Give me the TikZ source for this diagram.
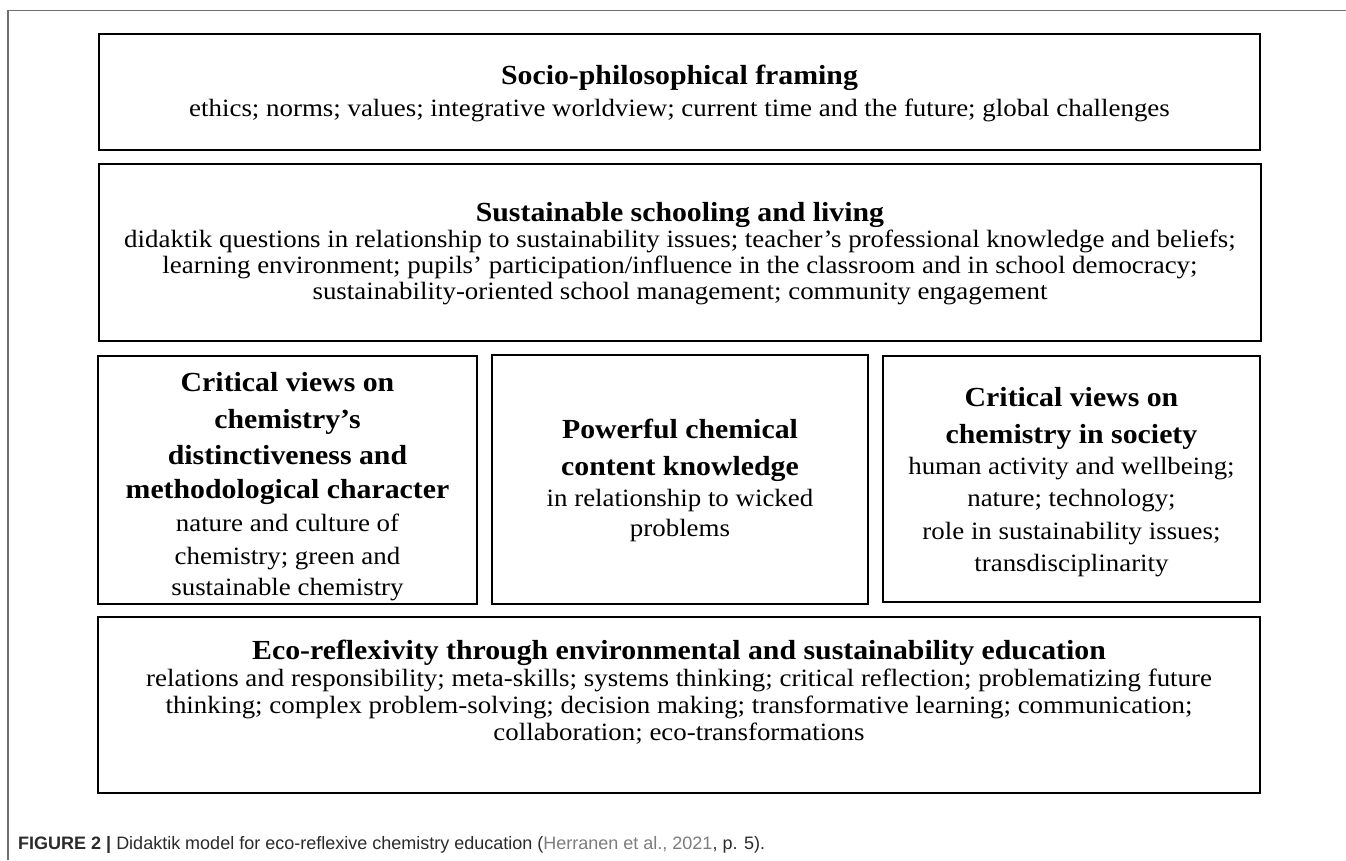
\documentclass[tikz,border=0pt]{standalone}
\usepackage{fontspec}
\setmainfont{Liberation Serif}[FakeStretch=1.08]
\newfontfamily\capfont{Liberation Sans}
\definecolor{framegray}{HTML}{6E6E6E}
\definecolor{captext}{HTML}{2B2B2B}
\definecolor{citegray}{HTML}{7D7D7D}

\begin{document}
\begin{tikzpicture}[x=1pt,y=-1pt,
  panel/.style={draw=black, line width=2.6pt},
  head/.style={anchor=base, inner sep=0pt, font=\fontsize{27.6}{30}\selectfont\bfseries},
  body/.style={anchor=base, inner sep=0pt, font=\fontsize{24.9}{27}\selectfont},
]
\useasboundingbox (0,0) rectangle (1346,860);
\fill[white] (0,0) rectangle (1346,860);

% page frame
\draw[framegray, line width=1.2pt] (8,860) -- (8,10.5) -- (1346,10.5);

% panels
\draw[panel] (99,34) rectangle (1260,150);
\draw[panel] (99,164) rectangle (1261,341);
\draw[panel] (98,356) rectangle (477,604);
\draw[panel] (492,355) rectangle (868,604);
\draw[panel] (883,356) rectangle (1260,602);
\draw[panel] (98,617) rectangle (1260,793);

% socio-philosophical framing
\node[head] (sp) at (679.5,84) {Socio-philosophical framing};
\node[body] (sp1) at (679.5,116) {ethics; norms; values; integrative worldview; current time and the future; global challenges};

% sustainable schooling
\node[head] (ss) at (680,221) {Sustainable schooling and living};
\node[body] (ss1) at (680,247) {didaktik questions in relationship to sustainability issues; teacher’s professional knowledge and beliefs;};
\node[body] (ss2) at (680,273) {learning environment; pupils’ participation/influence in the classroom and in school democracy;};
\node[body] (ss3) at (680,299) {sustainability-oriented school management; community engagement};

% critical views: distinctiveness
\node[head] (cd1) at (287.5,391) {Critical views on};
\node[head] (cd2) at (287.5,428) {chemistry’s};
\node[head] (cd3) at (287.5,464) {distinctiveness and};
\node[head] (cd4) at (287.5,498) {methodological character};
\node[body] (cd5) at (287.5,531) {nature and culture of};
\node[body] (cd6) at (287.5,564) {chemistry; green and};
\node[body] (cd7) at (287.5,595) {sustainable chemistry};

% powerful chemical content knowledge
\node[head] (pk1) at (680,438) {Powerful chemical};
\node[head] (pk2) at (680,475) {content knowledge};
\node[body] (pk3) at (680,506) {in relationship to wicked};
\node[body] (pk4) at (680,536) {problems};

% critical views: society
\node[head] (cs1) at (1071.5,406) {Critical views on};
\node[head] (cs2) at (1071.5,443) {chemistry in society};
\node[body] (cs3) at (1071.5,474) {human activity and wellbeing;};
\node[body] (cs4) at (1071.5,506) {nature; technology;};
\node[body] (cs5) at (1071.5,539) {role in sustainability issues;};
\node[body] (cs6) at (1071.5,571) {transdisciplinarity};

% eco-reflexivity
\node[head] (er) at (679,659) {Eco-reflexivity through environmental and sustainability education};
\node[body] (er1) at (679,686) {relations and responsibility; meta-skills; systems thinking; critical reflection; problematizing future};
\node[body] (er2) at (679,713) {thinking; complex problem-solving; decision making; transformative learning; communication;};
\node[body] (er3) at (679,740) {collaboration; eco-transformations};

% caption
\node[anchor=base west, inner sep=0pt, text=captext,
      font=\capfont\fontsize{18}{20}\selectfont] (cap) at (18,849)
  {\textbf{FIGURE 2} \textbf{|} Didaktik model for eco-reflexive chemistry education (\textcolor{citegray}{Herranen et al., 2021}, p. 5).};
\end{tikzpicture}
\end{document}
